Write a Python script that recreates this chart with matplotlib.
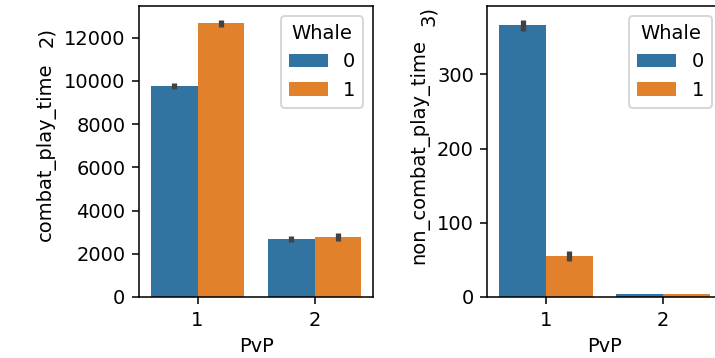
import numpy as np
import matplotlib.pyplot as plt
import seaborn as sns

# mean play time per PvP group, split by Whale flag
pvp = ['1', '2']
whale = ['0', '1']

combat_mean = {'0': [9750, 2690], '1': [12660, 2755]}
combat_err = {'0': [150, 150], '1': [160, 185]}

non_combat_mean = {'0': [366, 4.0], '1': [55, 3.8]}
non_combat_err = {'0': [7.5, 0.3], '1': [6.5, 0.3]}

colors = sns.color_palette('tab10', desat=0.75)[:2]

dpi = 140
fig = plt.figure(figsize=(715 / dpi, 358 / dpi), dpi=dpi)
ax1 = fig.add_axes([0.1944, 0.1704, 0.3273, 0.8128])
ax2 = fig.add_axes([0.6818, 0.1704, 0.3273, 0.8128])


def draw(ax, means, errs, ylabel):
    x = np.arange(len(pvp))
    for i, w in enumerate(whale):
        pos = x - 0.2 + 0.4 * i
        ax.bar(pos, means[w], width=0.4, color=colors[i], label=w)
        ax.errorbar(pos, means[w], yerr=errs[w], fmt='none',
                    ecolor='.26', elinewidth=2.7, capsize=0)
    ax.set_xticks(x)
    ax.set_xticklabels(pvp)
    ax.set_xlim(-0.5, 1.5)
    ax.set_xlabel('PvP')
    ax.set_ylabel(ylabel)
    ax.legend(title='Whale', loc='upper right')


draw(ax1, combat_mean, combat_err, 'combat_play_time')
draw(ax2, non_combat_mean, non_combat_err, 'non_combat_play_time')

fig.text(47 / 715, 1 - 37 / 358, '2)', rotation=90, ha='center', va='center')
fig.text(428 / 715, 1 - 16 / 358, '3)', rotation=90, ha='center', va='center')

fig.savefig('out.png', dpi=dpi)
